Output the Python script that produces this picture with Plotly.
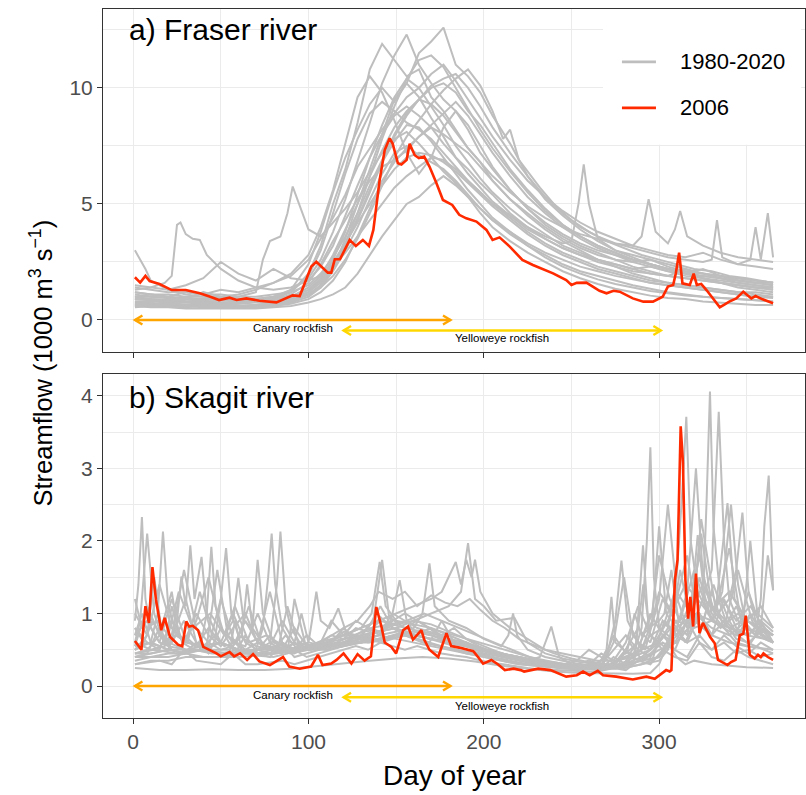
import plotly.graph_objects as go

# ---------------- DATA ----------------
# Fraser river (1000 m3/s) : grey = individual years 1980-2020 (sampled), red = 2006
G_F = [1, 10, 20, 30, 40, 50, 60, 70, 80, 90, 100, 107, 114, 121, 128, 135, 142, 149, 156, 163,
       170, 177, 184, 191, 198, 205, 215, 225, 235, 245, 255, 265, 275, 285, 295, 305, 315, 325,
       335, 345, 355, 365]

fraser_grey_days = [
    G_F, G_F, G_F, G_F,
    [1, 10, 18, 22, 25, 27, 30, 34, 38, 42, 50, 60, 70, 80, 90, 100, 107, 114, 121, 128, 135, 142,
     149, 156, 163, 170, 177, 184, 191, 198, 205, 215, 225, 235, 245, 255, 265, 275, 285, 295, 305,
     315, 325, 335, 345, 355, 365],
    [1, 10, 20, 30, 40, 50, 60, 70, 74, 78, 84, 88, 91, 95, 100, 107, 114, 121, 128, 135, 142, 149,
     156, 163, 170, 177, 184, 191, 198, 205, 215, 225, 235, 245, 255, 265, 275, 285, 295, 305, 315,
     325, 335, 345, 355, 365],
    [1, 4, 7, 10, 20, 30, 40, 50, 60, 70, 80, 90, 100, 107, 114, 121, 128, 135, 142, 149, 156, 163,
     170, 177, 184, 191, 198, 205, 215, 225, 235, 245, 255, 265, 275, 285, 295, 305, 315, 325, 335,
     345, 355, 365],
    [1, 10, 20, 30, 40, 50, 60, 70, 80, 90, 100, 107, 114, 121, 128, 135, 142, 149, 156, 163, 170,
     177, 184, 191, 198, 205, 211, 215, 220, 232, 241, 250, 260, 270, 280, 290, 300, 310, 320, 330,
     340, 350, 365],
    [1, 10, 20, 30, 40, 50, 60, 70, 80, 90, 100, 107, 114, 121, 128, 135, 142, 149, 156, 163, 170,
     177, 184, 191, 198, 205, 215, 225, 235, 245, 250, 254, 257, 260, 265, 275, 285, 295, 305, 315,
     325, 335, 345, 355, 365],
    [1, 10, 20, 30, 40, 50, 60, 70, 80, 90, 100, 107, 114, 121, 128, 135, 142, 149, 156, 163, 170,
     177, 184, 191, 198, 205, 215, 225, 235, 245, 255, 265, 275, 285, 290, 294, 298, 305, 309, 312,
     316, 325, 335, 345, 355, 365],
    G_F,
    [1, 10, 20, 30, 40, 50, 60, 70, 80, 90, 100, 107, 114, 121, 128, 135, 142, 149, 156, 163, 170,
     177, 184, 191, 198, 205, 215, 225, 235, 245, 255, 265, 275, 285, 295, 305, 315, 325, 330, 333,
     336, 345, 352, 355, 358, 362, 365],
    G_F, G_F, G_F, G_F, G_F, G_F, G_F, G_F, G_F, G_F,
]
fraser_grey_flow = [
    [1.0, 0.9, 0.85, 0.8, 0.8, 0.75, 0.75, 0.8, 0.9, 1.2, 2.0, 3.2, 5.0, 6.5, 8.5, 10.8, 11.9, 11.2,
     10.5, 10.8, 9.6, 9.0, 8.2, 7.4, 6.8, 6.0, 5.2, 4.6, 4.0, 3.5, 3.1, 2.8, 2.6, 2.3, 2.1, 1.9, 2.2,
     1.8, 1.6, 1.4, 1.3, 1.2],
    [0.7, 0.7, 0.65, 0.65, 0.6, 0.6, 0.6, 0.65, 0.7, 0.8, 1.1, 1.5, 2.2, 3.5, 5.0, 6.5, 8.0, 9.5,
     10.2, 11.5, 12.0, 12.6, 11.0, 10.5, 9.8, 8.8, 7.6, 6.2, 5.2, 4.5, 3.9, 3.4, 3.0, 2.7, 2.4, 2.2,
     2.0, 1.8, 1.6, 1.5, 1.4, 1.3],
    [1.2, 1.1, 1.0, 0.95, 0.9, 0.9, 0.85, 0.9, 1.0, 1.3, 1.8, 2.6, 3.8, 5.2, 6.8, 8.5, 10.2, 11.4,
     12.3, 11.0, 10.2, 9.5, 9.0, 8.2, 7.2, 6.5, 5.6, 4.8, 4.1, 3.6, 3.2, 2.9, 2.6, 2.5, 2.6, 2.3,
     2.1, 2.0, 1.8, 1.6, 1.5, 1.4],
    [0.6, 0.55, 0.55, 0.5, 0.5, 0.5, 0.5, 0.5, 0.55, 0.6, 0.75, 0.9, 1.1, 1.4, 2.0, 2.8, 3.6, 4.3,
     5.0, 5.3, 5.8, 6.2, 5.8, 5.3, 4.6, 4.0, 3.4, 2.9, 2.5, 2.1, 1.8, 1.55, 1.35, 1.2, 1.05, 0.95,
     0.9, 0.8, 0.75, 0.7, 0.65, 0.65],
    [1.3, 1.4, 1.6, 1.9, 4.1, 4.2, 3.7, 3.5, 3.45, 2.8, 2.2, 1.7, 1.4, 1.3, 1.4, 1.7, 2.3, 3.2, 4.5,
     5.8, 7.0, 8.0, 8.8, 9.2, 8.8, 8.3, 7.6, 7.0, 6.3, 5.7, 5.1, 4.5, 3.9, 3.5, 3.1, 2.8, 2.5, 2.3,
     2.1, 2.0, 1.9, 1.8, 1.7, 1.6, 1.5, 1.4, 1.4],
    [0.9, 0.85, 0.8, 0.8, 0.85, 0.9, 1.0, 1.2, 2.6, 3.4, 3.6, 4.6, 5.75, 4.9, 3.9, 3.6, 4.2, 4.8,
     5.5, 6.4, 7.2, 7.8, 8.1, 7.6, 7.0, 6.4, 5.9, 5.3, 4.8, 4.3, 3.8, 3.3, 2.9, 2.6, 2.3, 2.1, 1.9,
     1.75, 1.6, 1.5, 1.4, 1.3, 1.2, 1.1, 1.0, 1.0],
    [3.0, 2.6, 2.2, 1.7, 1.3, 1.1, 1.0, 0.95, 0.9, 0.9, 0.95, 1.0, 1.3, 1.7, 2.4, 3.3, 4.3, 5.5, 6.8,
     8.0, 8.9, 9.5, 10.0, 10.2, 9.8, 9.0, 8.4, 7.6, 6.5, 5.6, 4.8, 4.1, 3.6, 3.2, 2.9, 2.6, 2.4, 2.2,
     2.0, 1.9, 1.8, 1.7, 1.6, 1.6],
    [0.8, 0.8, 0.75, 0.75, 0.7, 0.7, 0.7, 0.75, 0.8, 0.9, 1.1, 1.4, 1.9, 2.6, 3.5, 4.6, 5.8, 7.0,
     7.9, 8.6, 9.3, 9.9, 10.4, 10.8, 10.1, 9.0, 7.8, 8.2, 6.9, 5.7, 4.9, 4.3, 3.8, 3.4, 3.1, 2.8,
     2.6, 2.4, 2.2, 2.1, 1.9, 1.8, 1.6],
    [1.1, 1.0, 0.95, 0.9, 0.9, 0.85, 0.85, 0.9, 1.0, 1.2, 1.9, 3.0, 4.6, 6.3, 7.8, 8.9, 9.4, 9.0,
     8.5, 8.2, 7.8, 7.2, 6.6, 6.0, 5.5, 5.0, 4.5, 4.0, 3.6, 3.3, 3.4, 5.0, 6.7, 5.0, 3.5, 3.0, 2.8,
     2.6, 2.4, 2.2, 2.0, 1.9, 1.8, 1.7, 1.6],
    [1.0, 1.0, 0.95, 0.9, 0.9, 0.85, 0.8, 0.85, 0.9, 1.0, 1.4, 1.9, 2.8, 3.9, 5.0, 6.2, 7.3, 8.3,
     9.0, 9.5, 9.3, 8.8, 8.1, 7.4, 6.8, 6.2, 5.5, 4.9, 4.4, 4.0, 3.7, 3.5, 3.3, 3.2, 3.6, 5.2, 3.8,
     3.3, 3.9, 4.7, 3.6, 3.2, 2.9, 2.7, 2.6, 2.5],
    [0.65, 0.6, 0.6, 0.6, 0.55, 0.55, 0.55, 0.6, 0.65, 0.75, 1.0, 1.4, 2.1, 3.0, 4.0, 5.2, 6.3, 7.2,
     7.5, 7.1, 6.8, 6.5, 6.0, 5.4, 4.8, 4.3, 3.7, 3.2, 2.8, 2.4, 2.1, 1.9, 1.7, 1.5, 1.35, 1.2, 1.1,
     1.0, 0.95, 0.9, 0.85, 0.8],
    [1.4, 1.3, 1.2, 1.2, 1.1, 1.1, 1.0, 1.0, 1.1, 1.2, 1.5, 2.0, 2.7, 3.6, 4.6, 5.8, 6.9, 7.9, 8.8,
     9.5, 10.1, 10.4, 10.6, 10.0, 9.2, 8.3, 7.2, 6.2, 5.3, 4.6, 4.0, 3.6, 3.3, 3.1, 2.9, 2.7, 2.6,
     2.5, 2.6, 4.3, 2.7, 2.4, 2.6, 4.0, 2.6, 4.6, 2.7],
    [1.5, 1.4, 1.3, 1.5, 1.8, 2.5, 2.0, 1.7, 2.2, 1.8, 1.7, 1.9, 2.3, 2.9, 3.6, 4.3, 5.0, 5.7, 6.2,
     6.6, 7.0, 6.9, 6.5, 6.0, 5.5, 5.0, 4.4, 3.8, 3.3, 2.9, 2.6, 2.3, 2.1, 1.9, 1.7, 1.6, 1.5, 1.4,
     1.3, 1.2, 1.2, 1.1],
    [0.75, 0.7, 0.7, 0.65, 0.65, 0.65, 0.6, 0.65, 0.7, 0.8, 1.1, 1.5, 2.2, 3.2, 4.4, 5.6, 6.8, 7.7,
     8.4, 8.3, 7.7, 7.0, 6.3, 5.6, 5.0, 4.4, 3.8, 3.2, 2.7, 2.3, 2.0, 1.75, 1.55, 1.4, 1.25, 1.15,
     1.05, 1.0, 0.95, 0.9, 0.85, 0.8],
    [0.9, 0.9, 0.85, 0.8, 0.8, 0.75, 0.75, 0.8, 0.85, 0.95, 1.2, 1.6, 2.3, 3.3, 4.6, 6.2, 7.8, 9.2,
     10.4, 11.2, 11.4, 10.9, 10.0, 9.1, 8.2, 7.4, 6.4, 5.5, 4.7, 4.1, 3.6, 3.2, 2.9, 2.6, 2.4, 2.2,
     2.0, 1.9, 1.8, 1.7, 1.6, 1.5],
    [1.2, 1.1, 1.1, 1.0, 1.0, 1.0, 1.1, 1.3, 1.6, 2.0, 2.8, 4.0, 5.6, 7.6, 9.6, 10.5, 9.8, 8.6, 7.2,
     6.3, 7.0, 8.3, 9.0, 8.4, 7.5, 6.6, 5.6, 4.8, 4.2, 3.7, 3.3, 3.0, 2.8, 2.6, 2.4, 2.2, 2.1, 2.0,
     1.9, 1.8, 1.7, 1.6],
    [0.8, 0.75, 0.9, 0.8, 0.75, 0.7, 0.72, 0.8, 0.95, 1.3, 2.4, 3.8, 5.5, 7.0, 8.2, 9.3, 10.0, 9.4,
     10.2, 9.6, 8.7, 7.9, 7.0, 6.5, 5.9, 5.4, 4.6, 4.0, 3.5, 3.1, 2.8, 2.6, 2.4, 2.2, 2.3, 2.1, 1.9,
     1.8, 1.7, 1.6, 1.5, 1.4],
    [0.55, 0.6, 0.58, 0.55, 0.6, 0.55, 0.52, 0.55, 0.6, 0.7, 0.9, 1.2, 1.7, 2.5, 3.6, 4.8, 6.0, 6.8,
     7.4, 7.9, 8.3, 8.0, 7.6, 7.2, 6.6, 6.0, 5.2, 4.5, 3.9, 3.4, 3.0, 2.6, 2.3, 2.0, 1.8, 1.6, 1.5,
     1.4, 1.3, 1.2, 1.1, 1.0],
    [1.0, 1.1, 1.0, 1.2, 1.1, 1.3, 1.2, 1.4, 1.6, 1.9, 2.6, 3.5, 4.4, 5.4, 6.6, 7.4, 8.2, 8.9, 9.6,
     10.0, 10.6, 11.0, 10.3, 9.5, 8.7, 7.9, 6.9, 6.0, 5.3, 4.7, 4.2, 3.8, 3.5, 3.2, 3.0, 2.8, 2.7,
     2.9, 2.6, 2.4, 2.3, 2.2],
    [0.7, 0.65, 0.7, 0.75, 0.7, 0.65, 0.7, 0.8, 0.85, 1.1, 1.6, 2.4, 3.4, 4.3, 5.2, 6.0, 6.6, 6.9,
     7.3, 7.9, 8.4, 8.9, 9.4, 8.8, 8.0, 7.2, 6.2, 5.3, 4.6, 4.0, 3.5, 3.1, 2.8, 2.5, 2.3, 2.1, 2.0,
     2.2, 1.9, 1.7, 1.6, 1.5],
    [0.9, 0.85, 0.8, 0.9, 1.2, 1.0, 0.9, 0.85, 0.9, 1.0, 1.3, 1.8, 2.6, 3.8, 5.4, 7.0, 8.4, 9.6,
     10.4, 10.0, 9.2, 8.4, 7.5, 6.8, 6.1, 5.5, 4.8, 4.2, 3.7, 3.2, 2.9, 2.6, 2.4, 2.2, 2.0, 1.9, 1.8,
     1.7, 1.6, 1.5, 1.4, 1.3],
    [0.65, 0.62, 0.6, 0.58, 0.6, 0.62, 0.6, 0.65, 0.75, 0.85, 1.2, 1.7, 2.5, 3.3, 4.2, 5.0, 5.8, 6.5,
     7.0, 7.2, 7.1, 6.8, 6.4, 5.9, 5.4, 4.9, 4.3, 3.7, 3.2, 2.8, 2.5, 2.2, 2.0, 1.8, 1.6, 1.5, 1.4,
     1.3, 1.2, 1.1, 1.0, 0.95],
]

fraser_2006_days = [1, 4, 7, 9.4, 15, 22, 30, 38, 44, 49, 55, 59, 64.6, 72, 81.7, 87, 91, 95, 101.6,
                    104.5, 111, 113, 115, 118, 123.5, 127, 131, 134.5, 137, 140.6, 143.5, 146.3,
                    148, 151, 153, 156, 157.7, 160.6, 163, 166, 169, 173, 176.7, 182, 186, 190,
                    195.8, 201.5, 205, 209, 214.8, 222, 228, 239.5, 247, 250, 253, 258.5, 266,
                    270, 274, 277.5, 285, 291, 296.5, 302, 305, 308, 309.5, 311.4, 313.3, 317.5,
                    319.7, 321.5, 324, 327, 330.7, 334.6, 337, 340, 344, 348, 352.6, 355, 359, 365]
fraser_2006_flow = [1.84, 1.61, 1.9, 1.68, 1.55, 1.29, 1.29, 1.15, 1.0, 0.86, 0.96, 0.86, 0.93, 0.83,
                    0.76, 0.93, 1.06, 1.03, 2.3, 2.51, 2.04, 2.04, 2.62, 2.62, 3.45, 3.19, 3.45,
                    3.19, 3.88, 6.03, 7.33, 7.83, 7.6, 6.75, 6.7, 6.9, 7.59, 7.1, 6.98, 7.04, 6.61,
                    5.89, 5.17, 4.96, 4.53, 4.38, 4.24, 3.88, 3.45, 3.56, 3.16, 2.59, 2.37, 2.01,
                    1.72, 1.51, 1.6, 1.61, 1.26, 1.15, 1.26, 1.22, 0.93, 0.79, 0.79, 1.0, 1.44,
                    1.51, 2.0, 2.9, 1.58, 1.51, 2.0, 1.51, 1.55, 1.29, 0.93, 0.55, 0.65, 0.79,
                    0.93, 1.22, 0.93, 1.03, 0.89, 0.72]

# Skagit river (1000 m3/s)
G_S = [1, 8, 15, 22, 29, 36, 43, 50, 57, 64, 71, 78, 85, 92, 99, 106, 113, 120, 127, 134, 141, 148,
       155, 162, 169, 176, 183, 190, 197, 204, 211, 218, 225, 232, 239, 246, 253, 260, 267, 274,
       281, 288, 295, 302, 309, 316, 323, 330, 337, 344, 351, 358, 365]

skagit_grey_days = [
    [1, 3, 5, 7, 10, 15, 20, 30, 40, 50, 60, 70, 80, 90, 100, 110, 120, 130, 140, 150, 160, 170, 180,
     190, 200, 210, 220, 230, 240, 250, 260, 270, 280, 290, 300, 305, 310, 315, 320, 325, 327, 329,
     331, 335, 340, 345, 350, 355, 360, 365],
    [1, 4, 8, 12, 16, 20, 25, 30, 40, 50, 60, 70, 78, 82, 84, 87, 90, 95, 100, 110, 120, 130, 140,
     150, 160, 170, 180, 190, 200, 210, 220, 230, 240, 250, 260, 270, 280, 290, 300, 305, 310, 313,
     315.5, 318, 322, 330, 340, 350, 360, 365],
    [1, 5, 10, 14, 17, 20, 25, 30, 40, 47, 50, 53, 56, 60, 70, 80, 90, 100, 110, 120, 130, 140, 150,
     160, 170, 176, 180, 184, 187, 190, 193, 195, 198, 205, 215, 225, 235, 245, 255, 265, 275, 285,
     290, 293, 295, 297, 300, 310, 320, 330, 340, 350, 365],
    [1, 10, 20, 25, 27.5, 30, 32.6, 35, 39, 42, 50, 60, 70, 80, 90, 100, 110, 120, 130, 140, 150,
     160, 170, 180, 190, 200, 210, 220, 230, 240, 250, 260, 270, 280, 290, 300, 310, 320, 325, 330,
     334, 337, 340, 345, 350, 355, 358, 360, 362.5, 364, 365],
    [1, 10, 20, 30, 38, 42, 44.6, 47, 52, 57, 60, 63, 68, 71, 74, 80, 90, 100, 110, 120, 130, 136,
     140.6, 144, 150, 160, 170, 180, 190, 200, 210, 220, 230, 240, 250, 260, 270, 280, 290, 300,
     310, 320, 330, 336, 341, 345, 350, 360, 365],
    [1, 10, 20, 30, 40, 50, 60, 70, 74, 77, 79, 81, 85, 90, 100, 110, 120, 130, 140, 147, 152, 156,
     160, 170, 180, 190, 200, 210, 220, 230, 240, 250, 260, 270, 275, 278.5, 282, 290, 300, 310, 320,
     330, 340, 344, 347.5, 351, 355, 365],
    [1, 10, 20, 30, 40, 50, 60, 70, 80, 90, 100, 102, 104.5, 107, 112, 117, 122, 130, 140, 150, 160,
     165, 169, 172, 180, 190, 200, 210, 214, 216.7, 219, 225, 235, 245, 255, 265, 270, 272.8, 275,
     285, 295, 305, 315, 325, 335, 345, 355, 365],
    [1, 8, 12, 16, 22, 26, 35, 45, 55, 62, 65, 68, 75, 85, 92, 96, 100, 110, 120, 130, 137, 142, 146,
     155, 165, 175, 185, 195, 205, 215, 225, 232, 238.5, 243, 250, 260, 270, 280, 290, 296, 300, 304,
     310, 316, 321, 325, 332, 340, 348, 352, 356, 365],
    [1, 15, 30, 45, 60, 75, 90, 105, 120, 135, 150, 165, 180, 195, 210, 225, 240, 255, 270, 285, 295,
     300, 305, 310, 315, 320, 330, 340, 350, 365],
    [1, 10, 18, 22, 28, 35, 45, 55, 58, 62, 70, 80, 88, 92, 98, 105, 115, 125, 135, 145, 155, 165,
     175, 185, 195, 205, 215, 225, 235, 245, 255, 265, 275, 285, 288, 291, 295, 305, 312, 318, 324,
     330, 338, 345, 353, 358, 365],
    [1, 12, 25, 40, 55, 70, 85, 100, 110, 120, 128, 135, 140, 148, 155, 162, 170, 178, 185, 192, 198,
     205, 212, 220, 230, 240, 250, 260, 270, 280, 290, 300, 310, 320, 330, 340, 350, 358, 362, 365],
    [1, 5, 10, 20, 30, 36, 42, 48, 54, 62, 72, 82, 88, 94, 100, 110, 120, 130, 140, 150, 160, 170,
     180, 190, 200, 210, 220, 230, 240, 250, 260, 268, 274, 280, 285, 292, 300, 305, 310, 318, 325,
     332, 340, 346, 355, 365],
    [1, 4, 8, 14, 20, 26, 34, 44, 52, 58, 66, 76, 86, 96, 106, 116, 126, 136, 146, 156, 166, 176, 186,
     196, 206, 216, 226, 236, 246, 256, 266, 276, 286, 296, 300, 306, 312, 320, 328, 336, 344, 352,
     360, 365],
    [1, 10, 20, 30, 40, 50, 60, 70, 80, 90, 100, 110, 120, 130, 140, 150, 160, 170, 180, 187, 191,
     195, 200, 207, 217.5, 225, 235, 245, 255, 265, 275, 282, 286, 290, 295, 300, 308, 316, 320, 324,
     332, 340, 350, 358, 365],
    [1, 6, 11, 18, 24, 31, 38, 45, 52, 59, 66, 73, 80, 87, 94, 101, 110, 120, 130, 140, 150, 160, 170,
     180, 190, 200, 210, 220, 230, 240, 250, 260, 270, 277, 283, 289, 296, 303, 310, 317, 324, 331,
     338, 345, 352, 359, 365],
    [1, 10, 20, 30, 40, 50, 60, 70, 80, 90, 100, 110, 120, 130, 140, 150, 160, 170, 180, 190, 200,
     210, 220, 230, 240, 250, 260, 270, 280, 287, 290.8, 294, 300, 303, 307, 311, 318, 322, 326, 332,
     339, 343, 350, 358, 365],
    G_S, G_S, G_S, G_S, G_S, G_S, G_S, G_S,
]
skagit_grey_flow = [
    [0.9, 1.4, 2.33, 1.2, 0.8, 0.6, 0.55, 0.5, 0.48, 0.45, 0.45, 0.44, 0.45, 0.48, 0.5, 0.55, 0.6,
     0.65, 0.7, 0.65, 0.6, 0.55, 0.5, 0.45, 0.4, 0.35, 0.3, 0.28, 0.26, 0.25, 0.24, 0.24, 0.25, 0.3,
     0.35, 0.5, 0.8, 0.6, 0.9, 1.2, 2.5, 4.06, 2.2, 1.2, 0.9, 0.7, 0.6, 0.55, 0.5, 0.45],
    [0.6, 0.9, 2.1, 1.0, 0.7, 0.6, 0.55, 0.5, 0.5, 0.6, 0.5, 0.48, 0.6, 1.4, 2.13, 1.1, 0.8, 0.6,
     0.55, 0.6, 0.65, 0.7, 0.75, 0.8, 0.7, 0.65, 0.6, 0.55, 0.45, 0.4, 0.35, 0.3, 0.28, 0.26, 0.25,
     0.25, 0.3, 0.4, 0.6, 0.8, 1.5, 2.6, 3.71, 2.0, 1.3, 0.9, 0.8, 0.7, 0.65, 0.6],
    [0.5, 0.55, 0.6, 1.0, 2.13, 1.1, 0.7, 0.6, 0.55, 0.7, 1.2, 1.9, 1.0, 0.7, 0.55, 0.5, 0.5, 0.55,
     0.6, 0.7, 0.8, 0.9, 1.0, 1.1, 1.2, 1.3, 1.5, 1.71, 1.4, 1.74, 1.5, 1.74, 1.3, 1.0, 0.8, 0.65,
     0.5, 0.45, 0.4, 0.35, 0.35, 0.4, 0.8, 2.0, 3.29, 1.5, 0.8, 0.6, 0.9, 0.7, 0.6, 0.55, 0.5],
    [0.45, 0.45, 0.5, 0.9, 1.51, 1.1, 1.94, 1.2, 1.78, 1.0, 0.6, 0.5, 0.45, 0.45, 0.5, 0.5, 0.55,
     0.6, 0.6, 0.65, 0.7, 0.7, 0.65, 0.6, 0.55, 0.5, 0.45, 0.4, 0.35, 0.3, 0.28, 0.27, 0.26, 0.28,
     0.35, 0.5, 0.6, 0.9, 1.2, 1.6, 3.78, 2.0, 1.2, 0.9, 0.8, 0.7, 1.2, 2.2, 2.9, 2.0, 1.32],
    [0.4, 0.4, 0.45, 0.45, 0.5, 1.0, 1.92, 1.1, 0.7, 0.9, 1.49, 0.9, 0.8, 1.74, 1.0, 0.6, 0.5, 0.5,
     0.6, 0.7, 0.8, 1.0, 1.71, 1.1, 0.9, 0.85, 0.8, 0.7, 0.6, 0.5, 0.45, 0.4, 0.35, 0.3, 0.28, 0.26,
     0.25, 0.25, 0.3, 0.4, 0.8, 1.0, 0.9, 1.3, 2.5, 1.4, 0.8, 0.7, 0.6],
    [0.35, 0.4, 0.4, 0.45, 0.4, 0.4, 0.45, 0.5, 0.8, 1.5, 2.1, 1.4, 0.8, 0.6, 0.5, 0.5, 0.55, 0.6,
     0.7, 0.9, 1.46, 0.9, 0.75, 0.7, 0.65, 0.6, 0.5, 0.45, 0.4, 0.35, 0.3, 0.28, 0.26, 0.4, 0.9,
     1.73, 0.9, 0.5, 0.6, 0.9, 0.8, 0.9, 1.2, 1.6, 2.39, 1.3, 0.9, 0.7],
    [0.3, 0.35, 0.35, 0.4, 0.4, 0.4, 0.4, 0.42, 0.45, 0.5, 0.6, 0.9, 1.3, 0.9, 0.8, 1.07, 0.7, 0.65,
     0.7, 0.75, 0.8, 1.0, 1.69, 1.1, 0.9, 0.8, 0.65, 0.55, 0.7, 1.0, 0.7, 0.5, 0.4, 0.35, 0.3, 0.27,
     0.5, 1.23, 0.6, 0.4, 0.5, 0.9, 1.4, 1.1, 0.8, 1.0, 0.7, 0.6],
    [0.5, 0.7, 1.5, 0.8, 1.3, 0.7, 0.55, 0.5, 0.5, 0.7, 1.4, 0.8, 0.55, 0.5, 0.6, 1.0, 0.6, 0.55,
     0.6, 0.7, 0.9, 1.74, 0.95, 0.8, 0.75, 0.7, 0.6, 0.55, 0.45, 0.4, 0.35, 0.4, 0.82, 0.4, 0.3,
     0.28, 0.27, 0.4, 0.5, 0.9, 2.2, 1.0, 0.8, 1.3, 3.0, 1.5, 1.0, 0.8, 0.9, 2.0, 1.0, 0.8],
    [0.25, 0.22, 0.22, 0.23, 0.22, 0.22, 0.24, 0.28, 0.32, 0.35, 0.38, 0.4, 0.38, 0.34, 0.28, 0.24,
     0.2, 0.18, 0.17, 0.17, 0.18, 0.3, 0.6, 0.4, 0.3, 0.35, 0.3, 0.28, 0.26, 0.25],
    [0.6, 0.5, 0.55, 1.1, 0.6, 0.5, 0.45, 0.45, 0.9, 0.5, 0.42, 0.4, 0.45, 1.2, 0.6, 0.5, 0.55, 0.6,
     0.6, 0.65, 0.7, 0.6, 0.55, 0.5, 0.45, 0.4, 0.35, 0.3, 0.28, 0.26, 0.25, 0.24, 0.24, 0.3, 0.8,
     1.4, 0.7, 0.5, 1.6, 0.9, 2.1, 1.1, 0.9, 1.6, 0.9, 0.7, 0.6],
    [0.45, 0.5, 0.45, 0.5, 0.45, 0.5, 0.5, 0.55, 0.65, 0.8, 0.9, 1.1, 1.3, 1.2, 1.3, 1.1, 1.25, 1.15,
     1.1, 1.2, 1.05, 0.9, 0.8, 0.65, 0.55, 0.45, 0.38, 0.33, 0.3, 0.3, 0.35, 0.4, 0.7, 1.0, 0.8, 0.7,
     0.9, 0.8, 1.8, 1.32],
    [0.7, 1.0, 0.6, 0.5, 1.2, 0.6, 0.55, 1.6, 0.7, 0.5, 0.45, 0.45, 1.1, 0.6, 0.5, 0.55, 0.6, 0.65,
     0.75, 0.85, 0.9, 0.85, 0.75, 0.65, 0.55, 0.45, 0.4, 0.35, 0.3, 0.28, 0.26, 0.3, 0.6, 1.5, 0.7,
     0.5, 1.2, 2.5, 1.3, 1.0, 1.4, 1.0, 1.9, 1.0, 0.8, 0.7],
    [1.2, 0.9, 0.8, 0.9, 0.7, 1.3, 0.8, 1.0, 0.7, 1.1, 0.6, 0.7, 0.55, 0.5, 0.55, 0.6, 0.7, 0.8,
     0.85, 0.9, 1.0, 0.9, 0.8, 0.7, 0.6, 0.5, 0.4, 0.35, 0.3, 0.28, 0.27, 0.28, 0.4, 1.0, 1.8, 1.2,
     0.9, 1.6, 1.0, 1.2, 0.9, 1.1, 0.8, 0.7],
    [0.55, 0.6, 0.5, 0.5, 0.55, 0.6, 0.5, 0.5, 0.55, 0.5, 0.5, 0.55, 0.6, 0.7, 0.75, 0.8, 0.9, 1.0,
     1.1, 1.3, 1.97, 1.2, 1.1, 0.9, 0.94, 0.6, 0.45, 0.38, 0.33, 0.3, 0.3, 0.5, 1.0, 0.7, 0.8, 1.3,
     1.0, 1.8, 1.2, 2.3, 1.1, 1.3, 0.9, 1.1, 0.8],
    [0.8, 0.6, 0.9, 0.6, 0.7, 0.6, 1.3, 0.7, 0.55, 0.6, 1.1, 0.6, 0.5, 0.7, 0.5, 0.55, 0.5, 0.55,
     0.6, 0.65, 0.7, 0.75, 0.7, 0.6, 0.55, 0.48, 0.42, 0.36, 0.32, 0.3, 0.27, 0.25, 0.24, 0.3, 0.6,
     0.4, 0.35, 0.9, 0.7, 1.1, 0.8, 1.4, 0.9, 0.7, 1.0, 0.7, 0.6],
    [0.4, 0.45, 0.5, 0.45, 0.5, 0.45, 0.5, 0.45, 0.5, 0.45, 0.5, 0.55, 0.6, 0.6, 0.65, 0.7, 0.7,
     0.65, 0.6, 0.55, 0.5, 0.42, 0.38, 0.33, 0.3, 0.28, 0.26, 0.25, 0.3, 0.6, 1.94, 0.8, 0.9, 1.0,
     1.6, 0.9, 1.0, 2.08, 1.2, 1.0, 2.52, 1.2, 0.9, 0.8, 0.7],
    [0.7, 0.9, 0.6, 1.2, 0.7, 0.55, 0.8, 0.6, 1.0, 0.6, 0.5, 0.7, 0.5, 0.45, 0.55,
     0.6, 0.7, 0.65, 0.8, 0.75, 0.9, 0.85, 0.8, 0.9, 0.8, 0.75, 0.7, 0.65, 0.6,
     0.55, 0.5, 0.45, 0.4, 0.36, 0.33, 0.3, 0.28, 0.27, 0.26, 0.3, 0.5,
     0.8, 0.6, 1.2, 0.9, 0.7, 1.5, 0.9, 0.8, 1.1, 0.7, 0.9, 0.6],
    [0.4, 0.45, 0.8, 0.5, 0.45, 0.6, 0.5, 0.45, 0.4, 0.7, 0.45, 0.4, 0.6, 0.4, 0.45,
     0.5, 0.55, 0.6, 0.7, 0.6, 0.65, 0.7, 0.75, 0.7, 0.65, 0.6, 0.55, 0.5, 0.45,
     0.4, 0.36, 0.32, 0.3, 0.28, 0.26, 0.25, 0.24, 0.23, 0.24, 0.4, 0.3,
     0.5, 0.4, 0.7, 0.5, 0.9, 0.6, 0.5, 0.7, 0.55, 0.45, 0.6, 0.5],
    [1.0, 0.7, 1.4, 0.8, 0.6, 0.9, 1.5, 0.8, 0.6, 0.55, 1.0, 0.6, 0.5, 0.8, 0.55,
     0.5, 0.6, 0.8, 0.65, 0.7, 0.95, 0.8, 0.75, 0.7, 0.8, 0.65, 0.6, 0.55, 0.5,
     0.45, 0.42, 0.38, 0.34, 0.3, 0.28, 0.27, 0.26, 0.3, 0.45, 0.35, 0.6,
     1.1, 0.7, 0.8, 1.3, 0.8, 1.0, 0.7, 1.2, 0.8, 0.7, 0.9, 0.75],
    [0.3, 0.32, 0.35, 0.3, 0.5, 0.35, 0.32, 0.3, 0.45, 0.3, 0.3, 0.33, 0.35, 0.3, 0.35,
     0.4, 0.45, 0.5, 0.55, 0.5, 0.6, 0.55, 0.5, 0.55, 0.5, 0.45, 0.42, 0.4, 0.36,
     0.32, 0.3, 0.27, 0.25, 0.23, 0.22, 0.21, 0.2, 0.2, 0.21, 0.25, 0.22,
     0.35, 0.3, 0.5, 0.4, 0.35, 0.6, 0.4, 0.35, 0.5, 0.4, 0.35, 0.3],
    [0.55, 1.1, 0.7, 0.6, 0.9, 0.6, 0.55, 1.2, 0.65, 0.5, 0.6, 1.3, 0.6, 0.5, 0.7,
     0.55, 0.9, 0.7, 0.6, 0.8, 1.1, 0.8, 0.7, 0.65, 0.6, 0.9, 0.6, 0.55, 0.5,
     0.5, 0.45, 0.38, 0.35, 0.32, 0.3, 0.29, 0.3, 0.35, 0.3, 0.5, 0.7,
     0.5, 1.0, 0.7, 0.6, 0.9, 1.8, 1.0, 0.8, 0.7, 1.3, 0.8, 0.7],
    [0.5, 0.6, 0.55, 0.7, 1.6, 0.8, 0.6, 0.5, 0.55, 0.9, 0.6, 0.5, 0.45, 0.6, 0.5,
     0.6, 0.65, 0.7, 0.9, 0.8, 0.75, 1.0, 0.9, 0.8, 0.75, 0.7, 0.8, 0.65, 0.55,
     0.48, 0.42, 0.38, 0.35, 0.33, 0.31, 0.3, 0.35, 0.5, 0.4, 0.32, 0.4,
     0.45, 0.7, 0.5, 0.8, 0.6, 0.7, 1.3, 0.8, 0.6, 0.55, 0.8, 0.6],
    [0.8, 0.6, 0.5, 0.9, 0.6, 1.0, 0.7, 0.55, 0.8, 1.0, 0.6, 0.55, 0.9, 0.6, 0.5,
     0.55, 0.6, 0.75, 0.7, 0.8, 0.7, 0.9, 1.0, 0.9, 0.8, 0.7, 0.6, 0.6, 0.5,
     0.45, 0.4, 0.37, 0.34, 0.31, 0.3, 0.28, 0.27, 0.3, 0.28, 0.7, 0.45,
     0.6, 0.5, 0.9, 0.7, 0.6, 1.0, 0.7, 0.9, 0.65, 0.6, 0.75, 0.7],
    [0.45, 0.5, 0.7, 0.5, 0.45, 0.6, 0.45, 0.8, 0.5, 0.45, 0.5, 0.45, 0.6, 0.5, 0.4,
     0.45, 0.5, 0.55, 0.6, 0.65, 0.6, 0.65, 0.7, 0.65, 0.6, 0.55, 0.5, 0.45, 0.42,
     0.38, 0.34, 0.31, 0.29, 0.27, 0.25, 0.24, 0.23, 0.24, 0.23, 0.3, 0.5,
     0.35, 0.45, 0.6, 0.5, 0.4, 0.7, 0.5, 0.6, 0.45, 0.5, 0.4, 0.45],
]

skagit_2006_days = [1, 4.7, 7, 9, 11, 13, 16, 18, 21, 25.6, 28, 30.3, 32, 34, 37, 40, 47.5, 50, 55,
                    57.6, 61, 65, 68.4, 72, 78, 85.5, 89, 95, 101.5, 105.4, 108, 113, 116, 120,
                    124.5, 128, 132, 135.6, 138.7, 141.6, 143.5, 147.3, 150, 154, 156.8, 159.6,
                    164.4, 166, 169, 174, 178.7, 181.4, 186, 191, 194, 196.7, 199.6, 204.3, 208,
                    212, 217, 221, 223, 227, 231, 238, 243.3, 247, 253, 256.6, 260.4, 265, 268,
                    272, 275.6, 285, 292.7, 297.5, 301, 304, 306, 307, 309, 310.5, 312.3, 313.6,
                    315, 316.5, 317.8, 319.4, 321, 323, 325, 329, 331.7, 333.6, 339, 341, 343.6,
                    346, 348, 349.4, 351.7, 354.5, 356.4, 358, 359.5, 362, 365]
skagit_2006_flow = [0.62, 0.5, 1.1, 0.87, 1.64, 1.19, 0.77, 0.94, 0.68, 0.57, 0.55, 0.89, 0.82,
                    0.83, 0.77, 0.54, 0.45, 0.41, 0.47, 0.41, 0.45, 0.36, 0.44, 0.34, 0.29, 0.4,
                    0.27, 0.24, 0.27, 0.43, 0.29, 0.31, 0.36, 0.45, 0.31, 0.44, 0.35, 0.41, 1.09,
                    0.82, 0.6, 0.54, 0.45, 0.77, 0.82, 0.64, 0.77, 0.64, 0.5, 0.4, 0.73, 0.55, 0.53,
                    0.5, 0.48, 0.4, 0.31, 0.36, 0.3, 0.22, 0.24, 0.22, 0.2, 0.22, 0.24, 0.22, 0.17,
                    0.13, 0.15, 0.2, 0.15, 0.21, 0.15, 0.14, 0.13, 0.09, 0.13, 0.1, 0.17, 0.22, 0.2,
                    0.22, 1.46, 1.74, 3.58, 3.07, 1.46, 0.93, 1.23, 0.82, 1.55, 0.73, 0.87, 0.68,
                    0.59, 0.36, 0.29, 0.33, 0.36, 0.7, 0.72, 0.97, 0.43, 0.38, 0.43, 0.4, 0.45, 0.4,
                    0.36]

# Spawning periods (day of year)
species = ["Canary rockfish", "Yelloweye rockfish"]
species_start = [1, 120]
species_end = [181, 301]
species_colors = ["#FFA500", "#FFD700"]

legend_labels = ["1980-2020", "2006"]
panel_titles = ["a) Fraser river", "b) Skagit river"]

for d, v in zip(fraser_grey_days + skagit_grey_days, fraser_grey_flow + skagit_grey_flow):
    assert len(d) == len(v), (len(d), len(v))

# ---------------- FIGURE ----------------
FONT = "Liberation Sans, Arial, Helvetica, sans-serif"
GREY = "#BEBEBE"
RED = "#FF2A00"
GRID = "#EBEBEB"
BORDER = "#333333"

W, H = 806, 795
M_L, M_R, M_T, M_B = 103, 1, 9, 77
XR = [-17.2, 383.2]
YR1, YR2 = [-1.38, 13.4], [-0.44, 4.3]
DOM1, DOM2 = [0.5162, 1.0], [0.0, 0.4852]
plot_w = W - M_L - M_R
plot_h = H - M_T - M_B
px_per_day = plot_w / (XR[1] - XR[0])
px_per_unit = {"y": plot_h * (DOM1[1] - DOM1[0]) / (YR1[1] - YR1[0]),
               "y2": plot_h * (DOM2[1] - DOM2[0]) / (YR2[1] - YR2[0])}

fig = go.Figure()

panels = [
    ("x", "y", fraser_grey_days, fraser_grey_flow, fraser_2006_days, fraser_2006_flow),
    ("x2", "y2", skagit_grey_days, skagit_grey_flow, skagit_2006_days, skagit_2006_flow),
]
for xa, ya, gd, gf, rd, rf in panels:
    for d, v in zip(gd, gf):
        fig.add_trace(go.Scatter(x=d, y=v, mode="lines", xaxis=xa, yaxis=ya,
                                 line=dict(color=GREY, width=2), showlegend=False,
                                 hoverinfo="skip"))
    fig.add_trace(go.Scatter(x=rd, y=rf, mode="lines", xaxis=xa, yaxis=ya,
                             line=dict(color=RED, width=2.6), showlegend=False,
                             hoverinfo="skip"))

# spawning-period double arrows (open chevron heads, like ggplot arrow())
arrow_y = {"y": [0.0, -0.45], "y2": [0.0, -0.155]}
label_y = {"y": [-0.36, -0.77], "y2": [-0.12, -0.27]}
HEAD_LEN_PX, HEAD_HALF_PX = 7.5, 4.5
for xa, ya in [("x", "y"), ("x2", "y2")]:
    dx = HEAD_LEN_PX / px_per_day
    dy = HEAD_HALF_PX / px_per_unit[ya]
    for i in range(2):
        s, e, yy = species_start[i], species_end[i], arrow_y[ya][i]
        fig.add_trace(go.Scatter(
            x=[s, e, None, s + dx, s, s + dx, None, e - dx, e, e - dx],
            y=[yy, yy, None, yy + dy, yy, yy - dy, None, yy + dy, yy, yy - dy],
            mode="lines", xaxis=xa, yaxis=ya, showlegend=False, hoverinfo="skip",
            line=dict(color=species_colors[i], width=2.4)))

tickfont = dict(family=FONT, size=21, color="#4D4D4D")


def xaxis_cfg(show_labels, anchor):
    return dict(range=XR, tickmode="linear", tick0=0, dtick=100, anchor=anchor,
                ticks="outside", ticklen=5, tickwidth=1.1, tickcolor=BORDER,
                showline=True, linecolor=BORDER, linewidth=1.1, mirror=True,
                showgrid=True, gridcolor=GRID, gridwidth=1.3, zeroline=False,
                minor=dict(dtick=50, tick0=0, showgrid=True, gridcolor=GRID,
                           gridwidth=0.6, ticks=""),
                showticklabels=show_labels, tickfont=tickfont)


def yaxis_cfg(rng, dtick, domain, anchor):
    return dict(range=rng, tickmode="linear", tick0=0, dtick=dtick, domain=domain,
                anchor=anchor, ticks="outside", ticklen=5, tickwidth=1.1,
                tickcolor=BORDER, showline=True, linecolor=BORDER, linewidth=1.1,
                mirror=True, showgrid=True, gridcolor=GRID, gridwidth=1.3,
                zeroline=False,
                minor=dict(dtick=dtick / 2, tick0=0, showgrid=True, gridcolor=GRID,
                           gridwidth=0.6, ticks=""),
                tickfont=tickfont)


fig.update_layout(
    width=W, height=H,
    margin=dict(l=M_L, r=M_R, t=M_T, b=M_B, autoexpand=False),
    paper_bgcolor="white", plot_bgcolor="white",
    font=dict(family=FONT),
    showlegend=False,
    xaxis=xaxis_cfg(False, "y"), xaxis2=xaxis_cfg(True, "y2"),
    yaxis=yaxis_cfg(YR1, 5, DOM1, "x"),
    yaxis2=yaxis_cfg(YR2, 1, DOM2, "x2"),
)

annotations = []
shapes = []

# panel titles
annotations.append(dict(x=-3.5, y=12.5, xref="x", yref="y", text=panel_titles[0],
                        showarrow=False, xanchor="left", yanchor="middle",
                        font=dict(family=FONT, size=30, color="black")))
annotations.append(dict(x=-3.5, y=3.97, xref="x2", yref="y2", text=panel_titles[1],
                        showarrow=False, xanchor="left", yanchor="middle",
                        font=dict(family=FONT, size=30, color="black")))

# spawning labels
for xr, yr in [("x", "y"), ("x2", "y2")]:
    for i in range(2):
        annotations.append(dict(x=(species_start[i] + species_end[i]) / 2,
                                y=label_y[yr][i], xref=xr, yref=yr, text=species[i],
                                showarrow=False, xanchor="center", yanchor="middle",
                                font=dict(family=FONT, size=11.5, color="black")))

# axis titles
annotations.append(dict(x=0.5, y=-0.0818, xref="paper", yref="paper", text="Day of year",
                        showarrow=False, xanchor="center", yanchor="middle",
                        font=dict(family=FONT, size=28, color="black")))
annotations.append(dict(x=-0.0883, y=0.5, xref="paper", yref="paper",
                        text="Streamflow (1000 m<sup>3</sup> s<sup>\u22121</sup>)",
                        textangle=-90, showarrow=False, xanchor="center", yanchor="middle",
                        font=dict(family=FONT, size=25.5, color="black")))

# legend (drawn inside top panel)
shapes.append(dict(type="rect", xref="x", yref="y", x0=268, x1=381, y0=7.55, y1=13.4,
                   fillcolor="white", line=dict(width=0), layer="between"))
leg_y = [11.12, 9.14]
leg_col = [GREY, RED]
for i in range(2):
    shapes.append(dict(type="line", xref="x", yref="y", x0=278.8, x1=298.2, y0=leg_y[i],
                       y1=leg_y[i], line=dict(color=leg_col[i], width=2.6), layer="above"))
    annotations.append(dict(x=310.8, y=leg_y[i], xref="x", yref="y", text=legend_labels[i],
                            showarrow=False, xanchor="left", yanchor="middle",
                            font=dict(family=FONT, size=22, color="black")))

fig.update_layout(annotations=annotations, shapes=shapes)

fig.write_html("out.html",
               config={"displayModeBar": False},
               post_script="document.body.style.margin='0';"
                           "document.body.style.overflow='hidden';")
